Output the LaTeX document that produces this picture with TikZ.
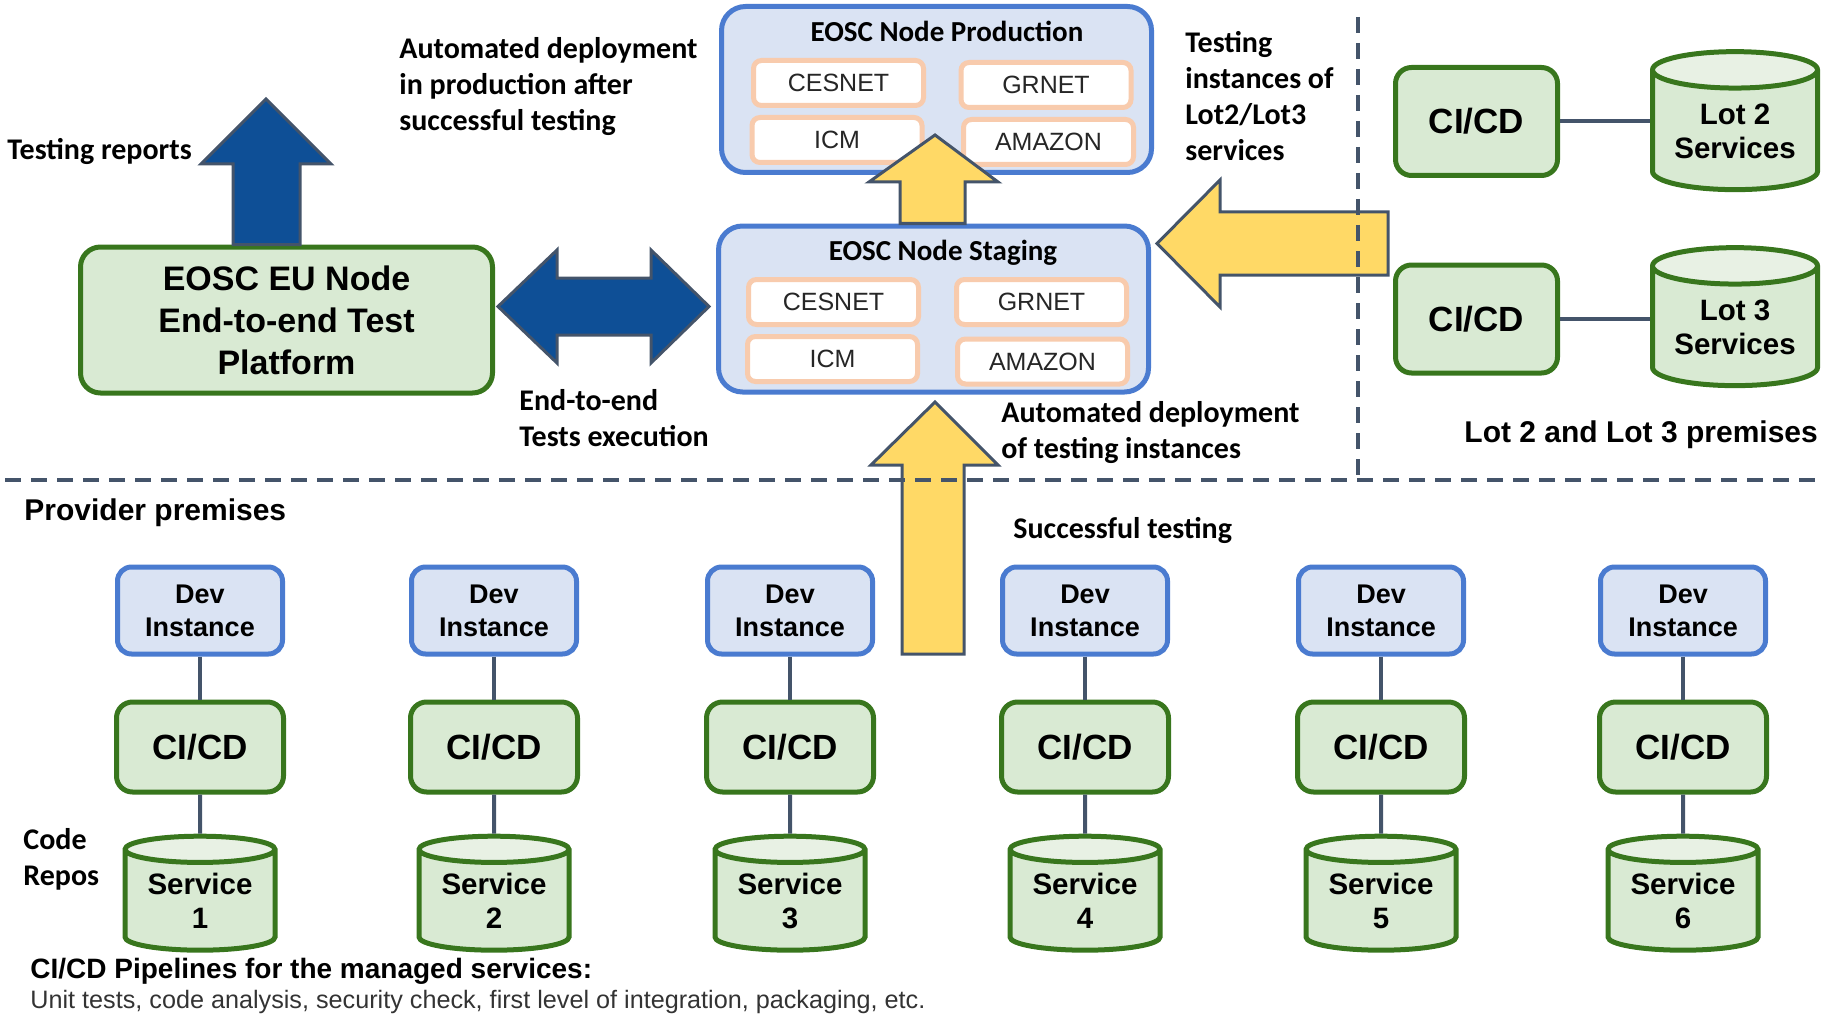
\documentclass[tikz,border=0pt]{standalone}
\usepackage{fontspec}
\usepackage{xcolor}
\usetikzlibrary{shapes.geometric}

\setmainfont{Liberation Sans}
\newfontfamily\labelfont{Carlito}

\definecolor{grnline}{HTML}{38761D}
\definecolor{grnfill}{HTML}{D9EAD3}
\definecolor{grntop}{HTML}{E8F1E4}
\definecolor{bluline}{HTML}{4A7BD0}
\definecolor{blufill}{HTML}{DAE3F3}
\definecolor{orgline}{HTML}{F8CBAD}
\definecolor{slate}{HTML}{44546A}
\definecolor{gold}{HTML}{FFD966}
\definecolor{navy}{HTML}{0E4F96}

\tikzset{
  greenbox/.style={draw=grnline, fill=grnfill, line width=2.5pt, rounded corners=8pt,
    align=center, inner sep=0pt, font=\bfseries\fontsize{17.5}{21}\selectfont},
  devbox/.style={draw=bluline, fill=blufill, line width=2.5pt, rounded corners=7pt,
    align=center, inner sep=0pt, minimum width=82.5pt, minimum height=43.5pt,
    font=\bfseries\fontsize{13.5}{16.5}\selectfont},
  nodebox/.style={draw=bluline, fill=blufill, line width=2.5pt, rounded corners=12pt,
    minimum width=215pt, minimum height=83pt},
  sitebox/.style={draw=orgline, fill=white, line width=2.5pt, rounded corners=4pt,
    minimum width=85pt, minimum height=22.5pt, inner sep=0pt,
    font=\fontsize{12.5}{15}\selectfont, text=black!85},
  repo/.style={cylinder, shape border rotate=90, aspect=0.25, draw=grnline, line width=2.5pt,
    cylinder uses custom fill, cylinder body fill=grnfill, cylinder end fill=grntop,
    align=center, inner sep=0pt, font=\bfseries\fontsize{14.75}{17}\selectfont},
  note/.style={anchor=west, align=left, inner sep=0pt,
    font=\labelfont\bfseries\fontsize{15}{18}\selectfont},
  title/.style={inner sep=0pt, font=\labelfont\bfseries\fontsize{14.5}{17}\selectfont},
  link/.style={draw=slate, line width=2pt},
  fence/.style={draw=slate, line width=2pt, dash pattern=on 8pt off 5pt},
  goldarrow/.style={draw=slate, fill=gold, line width=1.5pt},
  navyarrow/.style={draw=slate, fill=navy, line width=1.5pt},
}

\begin{document}
\begin{tikzpicture}[x=0.5pt, y=-0.5pt]

    \useasboundingbox (0,0) rectangle (1823,1016);

    % Test platform on the left
    \node[greenbox, minimum width=206pt, minimum height=73pt, rounded corners=10pt,
      font=\bfseries\fontsize{17}{21}\selectfont] (platform) at (286.5,320)
      {EOSC EU Node\\End-to-end Test\\Platform};
    \node[note] (reports) at (7,151) {Testing reports};

    % EOSC node production and staging
    \node[nodebox] (prod) at (936.5,89.5) {};
    \node[title] (prodtitle) at (947,31) {EOSC Node Production};
    \node[sitebox] (pcesnet) at (838.5,83) {CESNET};
    \node[sitebox] (pgrnet) at (1046,85) {GRNET};
    \node[sitebox] (picm) at (837,140) {ICM};
    \node[sitebox] (pamazon) at (1048.5,142) {AMAZON};

    \node[nodebox] (staging) at (933.5,309) {};
    \node[title] (stagtitle) at (943,253) {EOSC Node Staging};
    \node[sitebox] (scesnet) at (833.5,302) {CESNET};
    \node[sitebox] (sgrnet) at (1041.5,302) {GRNET};
    \node[sitebox] (sicm) at (832.5,359) {ICM};
    \node[sitebox] (samazon) at (1042.5,361.5) {AMAZON};

    \node[note] (prodnote) at (399,87) {Automated deployment\\in production after\\successful testing};
    \node[note] (e2enote) at (519,418.5) {End-to-end\\Tests execution};
    \node[note] (lotnote) at (1185,96) {Testing\\instances of\\Lot2/Lot3\\services};
    \node[note] (stagnote) at (1001,432.5) {Automated deployment\\of testing instances};
    \node[note] (oknote) at (1013,530) {Successful testing};

    % Lot 2 and Lot 3
    \node[greenbox, minimum width=81pt, minimum height=54pt] (lotci2) at (1476.5,121.5) {CI/CD};
    \node[repo, aspect=0.3, minimum width=82.5pt, minimum height=69pt] (lot2) at (1735,131) {Lot 2\\Services};
    \node[greenbox, minimum width=81pt, minimum height=54pt] (lotci3) at (1476.5,319) {CI/CD};
    \node[repo, aspect=0.3, minimum width=82.5pt, minimum height=69pt] (lot3) at (1735,327) {Lot 3\\Services};
    \draw[link] (lotci2.east) -- (lotci2.east -| lot2.west);
    \draw[link] (lotci3.east) -- (lotci3.east -| lot3.west);
    \node[anchor=west, inner sep=0pt, font=\bfseries\fontsize{15}{18}\selectfont] (lotprem) at (1464,435) {Lot 2 and Lot 3 premises};

    % Provider premises
    \node[anchor=west, inner sep=0pt, font=\bfseries\fontsize{15}{18}\selectfont] (provprem) at (24,513) {Provider premises};
    \node[note] (repos) at (23,859.5) {Code\\Repos};

    \node[devbox] (dev1) at (200,610.5) {Dev\\Instance};
    \node[devbox] (dev2) at (494,610.5) {Dev\\Instance};
    \node[devbox] (dev3) at (790,610.5) {Dev\\Instance};
    \node[devbox] (dev4) at (1085,610.5) {Dev\\Instance};
    \node[devbox] (dev5) at (1381,610.5) {Dev\\Instance};
    \node[devbox] (dev6) at (1683,610.5) {Dev\\Instance};

    \node[greenbox, minimum width=83.5pt, minimum height=45pt] (ci1) at (200,747) {CI/CD};
    \node[greenbox, minimum width=83.5pt, minimum height=45pt] (ci2) at (494,747) {CI/CD};
    \node[greenbox, minimum width=83.5pt, minimum height=45pt] (ci3) at (790,747) {CI/CD};
    \node[greenbox, minimum width=83.5pt, minimum height=45pt] (ci4) at (1085,747) {CI/CD};
    \node[greenbox, minimum width=83.5pt, minimum height=45pt] (ci5) at (1381,747) {CI/CD};
    \node[greenbox, minimum width=83.5pt, minimum height=45pt] (ci6) at (1683,747) {CI/CD};

    \node[repo, minimum width=75pt, minimum height=57pt] (svc1) at (200,901) {Service\\1};
    \node[repo, minimum width=75pt, minimum height=57pt] (svc2) at (494,901) {Service\\2};
    \node[repo, minimum width=75pt, minimum height=57pt] (svc3) at (790,901) {Service\\3};
    \node[repo, minimum width=75pt, minimum height=57pt] (svc4) at (1085,901) {Service\\4};
    \node[repo, minimum width=75pt, minimum height=57pt] (svc5) at (1381,901) {Service\\5};
    \node[repo, minimum width=75pt, minimum height=57pt] (svc6) at (1683,901) {Service\\6};

    \draw[link] (dev1) -- (ci1);  \draw[link] (ci1) -- (svc1);
    \draw[link] (dev2) -- (ci2);  \draw[link] (ci2) -- (svc2);
    \draw[link] (dev3) -- (ci3);  \draw[link] (ci3) -- (svc3);
    \draw[link] (dev4) -- (ci4);  \draw[link] (ci4) -- (svc4);
    \draw[link] (dev5) -- (ci5);  \draw[link] (ci5) -- (svc5);
    \draw[link] (dev6) -- (ci6);  \draw[link] (ci6) -- (svc6);

    \node[anchor=west, inner sep=0pt, font=\bfseries\fontsize{14}{17}\selectfont] (pipes) at (30,971)
      {CI/CD Pipelines for the managed services:};
    \node[anchor=west, inner sep=0pt, text=black!80, font=\fontsize{12.6}{15}\selectfont] (pipesdetail) at (30,1002)
      {Unit tests, code analysis, security check, first level of integration, packaging, etc.};

    % Block arrows
    \draw[navyarrow] (233,0 |- platform.north) -- (233,164) -- (201,164) -- (266,99)
      -- (331,164) -- (300,164) -- (300,0 |- platform.north) -- cycle;
    \draw[navyarrow] (498,306.5) -- (557,250) -- (557,278) -- (651,278) -- (651,250) -- (709,306.5)
      -- (651,363) -- (651,335) -- (557,335) -- (557,363) -- cycle;
    \draw[goldarrow] (900,0 |- staging.north) -- (900,182) -- (869,182) -- (935,135)
      -- (998,182) -- (965,182) -- (965,0 |- staging.north) -- cycle;
    \draw[goldarrow] (902,654) -- (902,465) -- (871,465) -- (935,402)
      -- (998,465) -- (964,465) -- (964,654) -- cycle;
    \draw[goldarrow] (1388,212) -- (1220,212) -- (1220,180) -- (1157,243.5)
      -- (1220,307) -- (1220,275) -- (1388,275) -- cycle;

    % Dashed borders of the premises
    \draw[fence] (1358,17) -- (1358,480);
    \draw[fence] (5,480) -- (1823,480);

\end{tikzpicture}
\end{document}
